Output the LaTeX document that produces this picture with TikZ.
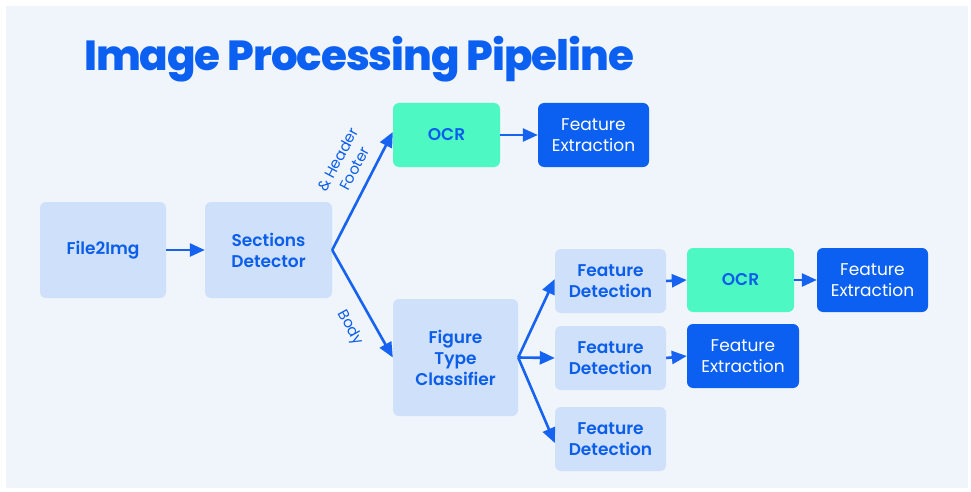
\documentclass[tikz,border=0pt]{standalone}
\usepackage{fontspec}
\setmainfont{Poppins}
\newfontfamily\heavyfont[LetterSpace=-2.5]{Poppins ExtraBold}
\newfontfamily\semifont{Poppins SemiBold}
\usetikzlibrary{arrows.meta}

\definecolor{pagebg}{HTML}{F0F4FB}
\definecolor{softbox}{HTML}{CFE0FA}
\definecolor{inkblue}{HTML}{0B5EEA}
\definecolor{mint}{HTML}{4DF8C3}
\definecolor{deepblue}{HTML}{0B60F2}
\definecolor{wireblue}{HTML}{1563F0}

\tikzset{
  x=1pt, y=-1pt,
  boxbase/.style={rounded corners=6pt, align=center, inner sep=0pt, font=\semifont\fontsize{17}{21}\selectfont},
  softstep/.style={boxbase, fill=softbox, text=inkblue},
  ocrstep/.style={boxbase, fill=mint, text=inkblue},
  featstep/.style={boxbase, fill=deepblue, text=white, font=\fontsize{17}{21}\selectfont},
  flow/.style={draw=wireblue, line width=2.6pt, -{Triangle[length=15pt,width=13pt]}},
  branchlabel/.style={text=inkblue, font=\fontsize{15}{19}\selectfont, align=center, inner sep=0pt}
}

\begin{document}
\begin{tikzpicture}
  % page and panel
  \fill[white] (0,0) rectangle (971,492);
  \fill[pagebg] (6,6) rectangle (968,488);
  \useasboundingbox (0,0) rectangle (971,492);

  % heading
  \node[anchor=base west, text=deepblue, inner sep=0pt,
        font=\heavyfont\fontsize{42}{48}\selectfont] (title) at (84,71) {Image Processing Pipeline};

  % stages
  \node[softstep, minimum width=126pt, minimum height=96pt] (f2i) at (103,250) {File2Img};
  \node[softstep, minimum width=127pt, minimum height=96pt] (sec) at (268.5,250) {Sections\\Detector};
  \node[ocrstep, minimum width=107pt, minimum height=64pt] (ocra) at (446.5,135) {OCR};
  \node[featstep, minimum width=111pt, minimum height=64pt] (fea) at (593.5,135) {Feature\\Extraction};
  \node[softstep, minimum width=125pt, minimum height=117pt] (ftc) at (455.5,357.5) {Figure\\Type\\Classifier};
  \node[softstep, minimum width=111pt, minimum height=64pt] (fda) at (610.5,281) {Feature\\Detection};
  \node[softstep, minimum width=111pt, minimum height=64pt] (fdb) at (610.5,358) {Feature\\Detection};
  \node[softstep, minimum width=111pt, minimum height=64pt] (fdc) at (610.5,439) {Feature\\Detection};
  \node[ocrstep, minimum width=107pt, minimum height=64pt] (ocrb) at (740.5,280) {OCR};
  \node[featstep, minimum width=111pt, minimum height=64pt] (feb) at (872.5,280) {Feature\\Extraction};
  \node[featstep, minimum width=112pt, minimum height=64pt] (fec) at (743,356) {Feature\\Extraction};

  % connectors
  \draw[flow] (f2i.east) -- (sec.west);
  \draw[flow] (sec.east) -- ([yshift=3pt]ocra.west);
  \draw[flow] (sec.east) -- (ftc.west);
  \draw[flow] (ocra.east) -- (fea.west);
  \draw[flow] (ftc.east) -- ([yshift=2pt]fda.west);
  \draw[flow] (ftc.east) -- (fdb.west);
  \draw[flow] (ftc.east) -- ([yshift=-4pt]fdc.west);
  \draw[flow] (fda.east) -- (ocrb.west);
  \draw[flow] (ocrb.east) -- (feb.west);
  \draw[flow] (fdb.east) -- (fec.west);

  % branch labels
  \node[branchlabel, rotate=62] (hf) at (346,164) {\& Header\\Footer};
  \node[branchlabel, rotate=-61] (bd) at (350,328) {Body};
\end{tikzpicture}
\end{document}
